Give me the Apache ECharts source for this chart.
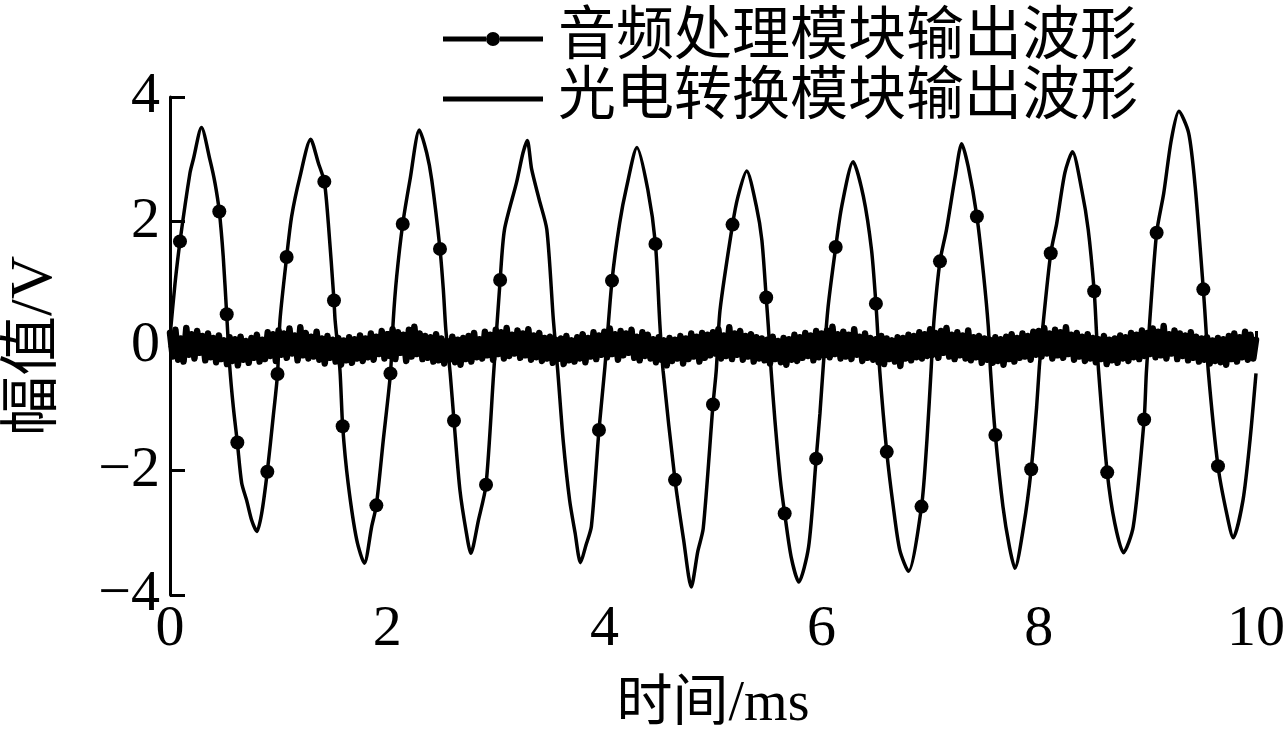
<!DOCTYPE html>
<html>
<head>
<meta charset="utf-8">
<script src="https://cdn.jsdelivr.net/npm/echarts@6/dist/echarts.min.js"></script>
<style>html,body{margin:0;padding:0;background:#fff;}#c{width:1288px;height:744px;}</style>
</head>
<body>
<div id="c"></div>
<script>
// ---- data ----
const seriesNames = ['音频处理模块输出波形', '光电转换模块输出波形'];
const xTicks = [0, 2, 4, 6, 8, 10];
const yTicks = [-4, -2, 0, 2, 4];

const audioTime = [
 0.0,0.046,0.092,0.184,0.215,0.29,0.368,0.414,0.454,0.49,0.522,0.55,0.583,0.62,0.66,0.706,0.752,0.80,0.844,0.896,0.95,0.99,
 1.013,1.074,1.12,1.197,1.295,1.366,1.421,1.458,1.51,1.52,1.565,1.59,1.64,1.72,1.79,1.857,1.90,1.964,2.03,
 2.056,2.087,2.143,2.21,2.296,2.364,2.41,2.486,2.517,2.54,2.58,2.615,2.67,2.73,2.77,2.84,2.91,2.98,
 3.04,3.08,3.19,3.25,3.29,3.33,3.40,3.47,3.53,3.57,3.62,3.68,3.73,3.78,3.83,3.88,3.95,4.005,
 4.07,4.14,4.205,4.30,4.40,4.47,4.51,4.54,4.65,4.73,4.80,4.86,4.91,5.0,5.03,
 5.065,5.18,5.23,5.31,5.40,5.45,5.49,5.51,5.535,5.57,5.62,5.66,5.72,5.79,5.88,5.95,5.985,6.015,
 6.06,6.13,6.185,6.29,6.385,6.46,6.50,6.515,6.535,6.60,6.66,6.72,6.80,6.92,6.97,7.01,
 7.035,7.09,7.15,7.23,7.29,7.35,7.43,7.49,7.535,7.555,7.60,7.67,7.73,7.78,7.86,7.93,7.98,8.005,
 8.04,8.11,8.165,8.24,8.31,8.395,8.455,8.51,8.53,8.55,8.63,8.70,8.78,8.87,8.97,8.99,
 9.02,9.085,9.15,9.22,9.29,9.38,9.44,9.515,9.54,9.56,9.65,9.73,9.79,9.88,9.945,10.0
];
const audioValue = [
 0.15,1.0,1.68,2.78,3.0,3.51,2.99,2.62,2.16,1.44,0.51,-0.33,-0.98,-1.55,-2.2,-2.48,-2.8,-2.98,-2.69,-2.02,-1.14,-0.45,
 0.42,1.43,2.08,2.72,3.32,2.94,2.64,1.97,0.73,0.42,-0.39,-1.29,-2.2,-3.12,-3.49,-2.9,-2.56,-1.51,-0.44,
 0.42,1.11,1.96,2.67,3.47,3.1,2.67,1.56,0.9,0.26,-0.44,-1.2,-2.32,-3.01,-3.33,-2.8,-2.23,-0.44,
 1.06,1.87,2.62,3.1,3.30,2.84,2.35,1.87,0.42,-0.39,-1.51,-2.48,-3.0,-3.48,-3.2,-2.9,-1.35,-0.33,
 1.05,1.97,2.56,3.19,2.51,1.64,0.37,-0.39,-2.15,-3.12,-3.87,-3.3,-2.93,-0.94,-0.39,
 0.58,1.95,2.4,2.81,2.24,1.70,0.78,0.3,-0.39,-1.19,-2.15,-2.69,-3.39,-3.79,-3.23,-1.81,-1.08,-0.33,
 0.63,1.59,2.24,2.96,2.40,1.54,0.68,0.26,-0.39,-1.70,-2.58,-3.28,-3.62,-2.58,-1.51,-0.33,
 0.42,1.36,1.87,2.72,3.25,2.88,2.08,1.17,0.31,-0.39,-1.43,-2.58,-3.23,-3.57,-2.9,-1.98,-0.98,-0.33,
 0.36,1.49,1.97,2.78,3.12,2.51,1.87,0.88,0.26,-0.39,-2.03,-2.85,-3.32,-2.9,-1.18,-0.44,
 0.36,1.82,2.45,3.31,3.77,3.42,2.56,0.91,0.26,-0.39,-1.93,-2.69,-3.08,-2.48,-1.51,-0.44
];

const dotTime = [0.092,0.454,0.522,0.62,0.896,0.99,1.074,1.421,1.51,1.59,1.90,2.03,2.143,2.486,2.615,2.91,3.04,3.95,4.07,4.47,4.65,5.0,5.18,5.49,5.66,5.95,6.13,6.50,6.60,6.92,7.09,7.43,7.60,7.93,8.11,8.51,8.63,8.97,9.085,9.515,9.65];
const dotValue = [1.68,2.16,0.51,-1.55,-2.02,-0.45,1.43,2.64,0.73,-1.29,-2.56,-0.44,1.96,1.56,-1.2,-2.23,1.06,-1.35,1.05,1.64,-2.15,-0.94,1.95,0.78,-2.69,-1.81,1.59,0.68,-1.70,-2.58,1.36,2.08,-1.43,-1.98,1.49,0.88,-2.03,-1.18,1.82,0.91,-1.93];

const noiseStep = 0.025; // ms between samples
const noiseValue = [
 0.21,-0.17,0.26,-0.22,0.12,-0.25,0.29,-0.14,0.19,-0.2,
 0.24,-0.11,0.16,-0.23,0.2,-0.18,0.13,-0.26,0.17,-0.21,
 0.09,-0.29,0.14,-0.24,0.11,-0.31,0.15,-0.22,0.08,-0.27,
 0.13,-0.19,0.18,-0.25,0.1,-0.21,0.22,-0.16,0.19,-0.24,
 0.25,-0.14,0.2,-0.19,0.28,-0.12,0.17,-0.23,0.3,-0.15,
 0.21,-0.2,0.15,-0.17,0.23,-0.22,0.12,-0.28,0.16,-0.19,
 0.1,-0.25,0.13,-0.3,0.09,-0.23,0.14,-0.27,0.11,-0.2,
 0.17,-0.24,0.12,-0.18,0.2,-0.22,0.15,-0.13,0.24,-0.2,
 0.19,-0.16,0.27,-0.21,0.22,-0.11,0.18,-0.24,0.26,-0.17,
 0.31,-0.13,0.2,-0.21,0.16,-0.19,0.14,-0.25,0.19,-0.23,
 0.12,-0.28,0.08,-0.22,0.15,-0.26,0.1,-0.3,0.13,-0.21,
 0.16,-0.25,0.21,-0.18,0.11,-0.2,0.23,-0.15,0.18,-0.22,
 0.26,-0.13,0.22,-0.2,0.29,-0.16,0.18,-0.12,0.25,-0.19,
 0.2,-0.15,0.27,-0.22,0.17,-0.18,0.21,-0.24,0.13,-0.2,
 0.15,-0.27,0.1,-0.21,0.12,-0.29,0.16,-0.23,0.09,-0.25,
 0.14,-0.2,0.19,-0.26,0.13,-0.17,0.22,-0.21,0.17,-0.14,
 0.23,-0.18,0.28,-0.13,0.19,-0.22,0.24,-0.15,0.2,-0.11,
 0.26,-0.19,0.15,-0.23,0.22,-0.16,0.18,-0.2,0.11,-0.26,
 0.14,-0.22,0.09,-0.31,0.13,-0.24,0.1,-0.2,0.16,-0.28,
 0.12,-0.21,0.2,-0.17,0.15,-0.25,0.21,-0.19,0.18,-0.15,
 0.22,-0.12,0.27,-0.2,0.17,-0.16,0.3,-0.21,0.2,-0.14,
 0.24,-0.22,0.16,-0.17,0.19,-0.25,0.14,-0.2,0.12,-0.23,
 0.1,-0.28,0.15,-0.21,0.08,-0.26,0.13,-0.3,0.11,-0.22,
 0.18,-0.24,0.14,-0.19,0.21,-0.16,0.17,-0.23,0.24,-0.18,
 0.2,-0.15,0.25,-0.18,0.31,-0.13,0.19,-0.2,0.23,-0.17,
 0.18,-0.21,0.27,-0.14,0.15,-0.24,0.2,-0.19,0.13,-0.22,
 0.11,-0.26,0.16,-0.29,0.12,-0.21,0.09,-0.25,0.14,-0.32,
 0.13,-0.2,0.18,-0.23,0.16,-0.18,0.22,-0.2,0.19,-0.16,
 0.27,-0.14,0.21,-0.19,0.24,-0.11,0.29,-0.17,0.18,-0.21,
 0.22,-0.15,0.17,-0.2,0.25,-0.23,0.14,-0.18,0.16,-0.27,
 0.12,-0.22,0.1,-0.27,0.14,-0.24,0.11,-0.3,0.15,-0.21,
 0.19,-0.25,0.13,-0.19,0.2,-0.17,0.16,-0.22,0.23,-0.14,
 0.24,-0.17,0.29,-0.12,0.2,-0.2,0.26,-0.15,0.22,-0.19,
 0.3,-0.13,0.18,-0.22,0.21,-0.17,0.15,-0.24,0.19,-0.2,
 0.13,-0.26,0.11,-0.21,0.16,-0.29,0.1,-0.23,0.12,-0.27,
 0.17,-0.2,0.14,-0.24,0.21,-0.18,0.18,-0.21,0.25,-0.16,
 0.21,-0.13,0.28,-0.18,0.23,-0.15,0.32,-0.2,0.19,-0.12,
 0.25,-0.21,0.2,-0.16,0.17,-0.23,0.22,-0.19,0.15,-0.25,
 0.12,-0.22,0.14,-0.28,0.09,-0.24,0.13,-0.26,0.11,-0.3,
 0.16,-0.21,0.2,-0.25,0.14,-0.18,0.23,-0.22,0.18,-0.2,
 0.1
];

// ---- build ----
const audioData = audioTime.map((t, i) => [t, audioValue[i]]);
const dotData = dotTime.map((t, i) => [t, dotValue[i]]);
const noiseData = noiseValue.map((v, i) => [i * noiseStep, v]);

const serif = '"Liberation Serif", "Noto Sans CJK SC", serif';
const legendText = {fontSize: 58, fontFamily: serif, color: '#000', padding: [0, 0, 0, 10]};
const chart = echarts.init(document.getElementById('c'), null, {renderer: 'canvas'});
chart.setOption({
  animation: false,
  backgroundColor: '#fff',
  grid: {left: 170, right: 32, top: 97, bottom: 149, containLabel: false, outerBoundsMode: 'none'},
  legend: [
    {
      data: [{name: seriesNames[0],
        icon: 'path://M0,5 L43,5 L43,10 L0,10 Z M57,5 L100,5 L100,10 L57,10 Z M43,7.5 A7,7 0 1,0 57,7.5 A7,7 0 1,0 43,7.5 Z',
        itemStyle: {color: '#000', borderWidth: 0}}],
      left: 438, top: 5, itemWidth: 100, itemHeight: 15, itemGap: 0,
      textStyle: legendText, inactiveColor: '#000'
    },
    {
      data: [{name: seriesNames[1], icon: 'rect', itemStyle: {color: '#000', borderWidth: 0}}],
      left: 438, top: 65, itemWidth: 100, itemHeight: 5, itemGap: 0,
      textStyle: legendText, inactiveColor: '#000'
    }
  ],
  xAxis: {
    type: 'value', min: xTicks[0], max: xTicks[xTicks.length - 1], interval: 2,
    name: '时间/ms', nameLocation: 'middle', nameGap: 82,
    nameTextStyle: {fontSize: 56, fontFamily: serif, color: '#000'},
    axisLine: {lineStyle: {color: '#000', width: 3}},
    axisTick: {inside: true, length: 15, lineStyle: {color: '#000', width: 3}},
    axisLabel: {fontSize: 58, fontFamily: serif, color: '#000', margin: 6},
    splitLine: {show: false}
  },
  yAxis: {
    type: 'value', min: yTicks[0], max: yTicks[yTicks.length - 1], interval: 2,
    name: '幅值/V', nameLocation: 'middle', nameGap: 105, nameRotate: 90,
    nameTextStyle: {fontSize: 60, fontFamily: serif, color: '#000'},
    axisLine: {lineStyle: {color: '#000', width: 3}},
    axisTick: {inside: true, length: 15, lineStyle: {color: '#000', width: 3}},
    axisLabel: {fontSize: 58, fontFamily: serif, color: '#000', margin: 10,
      formatter: v => String(v).replace('-', '\u2212')},
    splitLine: {show: false}
  },
  series: [
    {
      name: seriesNames[0], type: 'line', data: audioData, showSymbol: false, symbol: 'none',
      smooth: 0.25, lineStyle: {color: '#000', width: 3.5}, itemStyle: {color: '#000'}, z: 3
    },
    {
      name: 'dots', type: 'scatter', data: dotData, symbol: 'circle', symbolSize: 14,
      itemStyle: {color: '#000', opacity: 1}, z: 4
    },
    {
      name: seriesNames[1], type: 'line', data: noiseData, showSymbol: false, symbol: 'none',
      lineStyle: {color: '#000', width: 6.5, join: 'round', cap: 'round'}, itemStyle: {color: '#000'}, z: 5
    }
  ]
});
</script>
</body>
</html>
